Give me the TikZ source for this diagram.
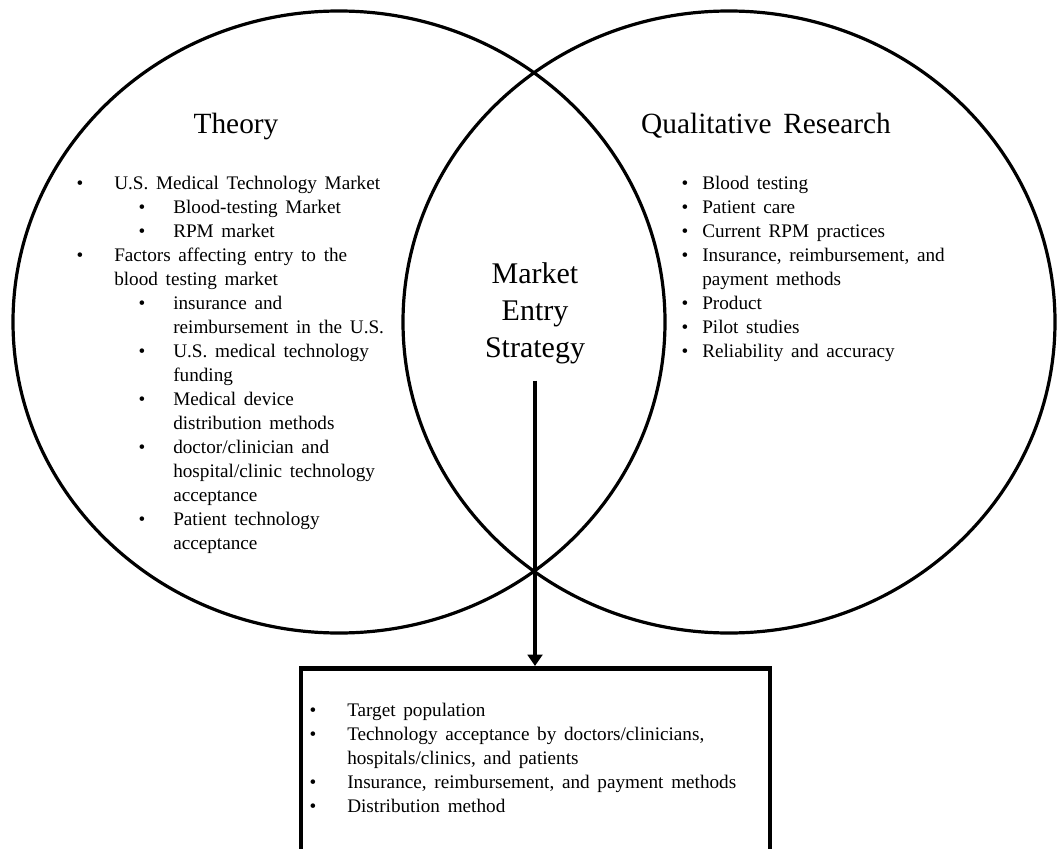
\documentclass[tikz,border=0pt]{standalone}
\usepackage{fontspec}
\setmainfont{Liberation Serif}[WordSpace=1.6]
\usetikzlibrary{arrows.meta,shapes.geometric}
\begin{document}
\begin{tikzpicture}[x=0.75pt,y=-0.75pt,
  ring/.style={draw, ellipse, line width=2.4pt, inner sep=0pt,
               minimum width=489pt, minimum height=466.5pt},
  title/.style={font=\fontsize{22}{26}\selectfont, anchor=base, inner sep=0pt},
  center/.style={font=\fontsize{22.5}{27}\selectfont, anchor=base, inner sep=0pt},
  item/.style={font=\fontsize{14.4}{18}\selectfont, anchor=base west, inner sep=0pt},
  dot/.style={font=\fontsize{14.4}{18}\selectfont, anchor=base, inner sep=0pt},
  flow/.style={line width=3pt, -{Triangle[width=11pt,length=8.5pt]}},
  outbox/.style={draw, line width=3.5pt, inner sep=0pt,
                 minimum width=351.75pt, minimum height=165pt}]
\useasboundingbox (0,0) rectangle (1057,849);
\clip (0,0) rectangle (1057,849);
\fill[white] (0,0) rectangle (1057,849);

% circles
\node[ring] (theoryC) at (339,322) {};
\node[ring] (qualC) at (729,322) {};

% titles
\node[title] (theory) at (236,133) {Theory};
\node[title] (qual) at (766,133) {Qualitative Research};

% centre text
\node[center] (mkt) at (535,283) {Market};
\node[center] (ent) at (535,320) {Entry};
\node[center] (strat) at (535,357) {Strategy};

% left list
\foreach \x/\t [count=\i] in {
  114/{U.S. Medical Technology Market},
  173/{Blood-testing Market},
  173/{RPM market},
  114/{Factors affecting entry to the},
  114/{blood testing market},
  173/{insurance and},
  173/{reimbursement in the U.S.},
  173/{U.S. medical technology},
  173/{funding},
  173/{Medical device},
  173/{distribution methods},
  173/{doctor/clinician and},
  173/{hospital/clinic technology},
  173/{acceptance},
  173/{Patient technology},
  173/{acceptance}}
  \node[item] (lt\i) at (\x,{189+24*(\i-1)}) {\t};
\foreach \x/\k [count=\i] in {80/0,142/1,142/2,80/3,142/5,142/7,142/9,142/11,142/14}
  \node[dot] (lb\i) at (\x,{189+24*\k}) {•};

% right list
\foreach \t [count=\i] in {
  {Blood testing},
  {Patient care},
  {Current RPM practices},
  {Insurance, reimbursement, and},
  {payment methods},
  {Product},
  {Pilot studies},
  {Reliability and accuracy}}
  \node[item] (rt\i) at (702,{189+24*(\i-1)}) {\t};
\foreach \k [count=\i] in {0,1,2,3,5,6,7}
  \node[dot] (rb\i) at (685,{189+24*\k}) {•};

% outcome box
\node[outbox, anchor=north] (box) at (535.5,666) {};
\foreach \t [count=\i] in {
  {Target population},
  {Technology acceptance by doctors/clinicians,},
  {hospitals/clinics, and patients},
  {Insurance, reimbursement, and payment methods},
  {Distribution method}}
  \node[item] (bt\i) at (347,{716+24*(\i-1)}) {\t};
\foreach \k [count=\i] in {0,1,3,4}
  \node[dot] (bb\i) at (313,{716+24*\k}) {•};

% arrow
\draw[flow] ([yshift=-12.75pt]strat.south) -- (strat.south |- box.north);
\end{tikzpicture}
\end{document}
